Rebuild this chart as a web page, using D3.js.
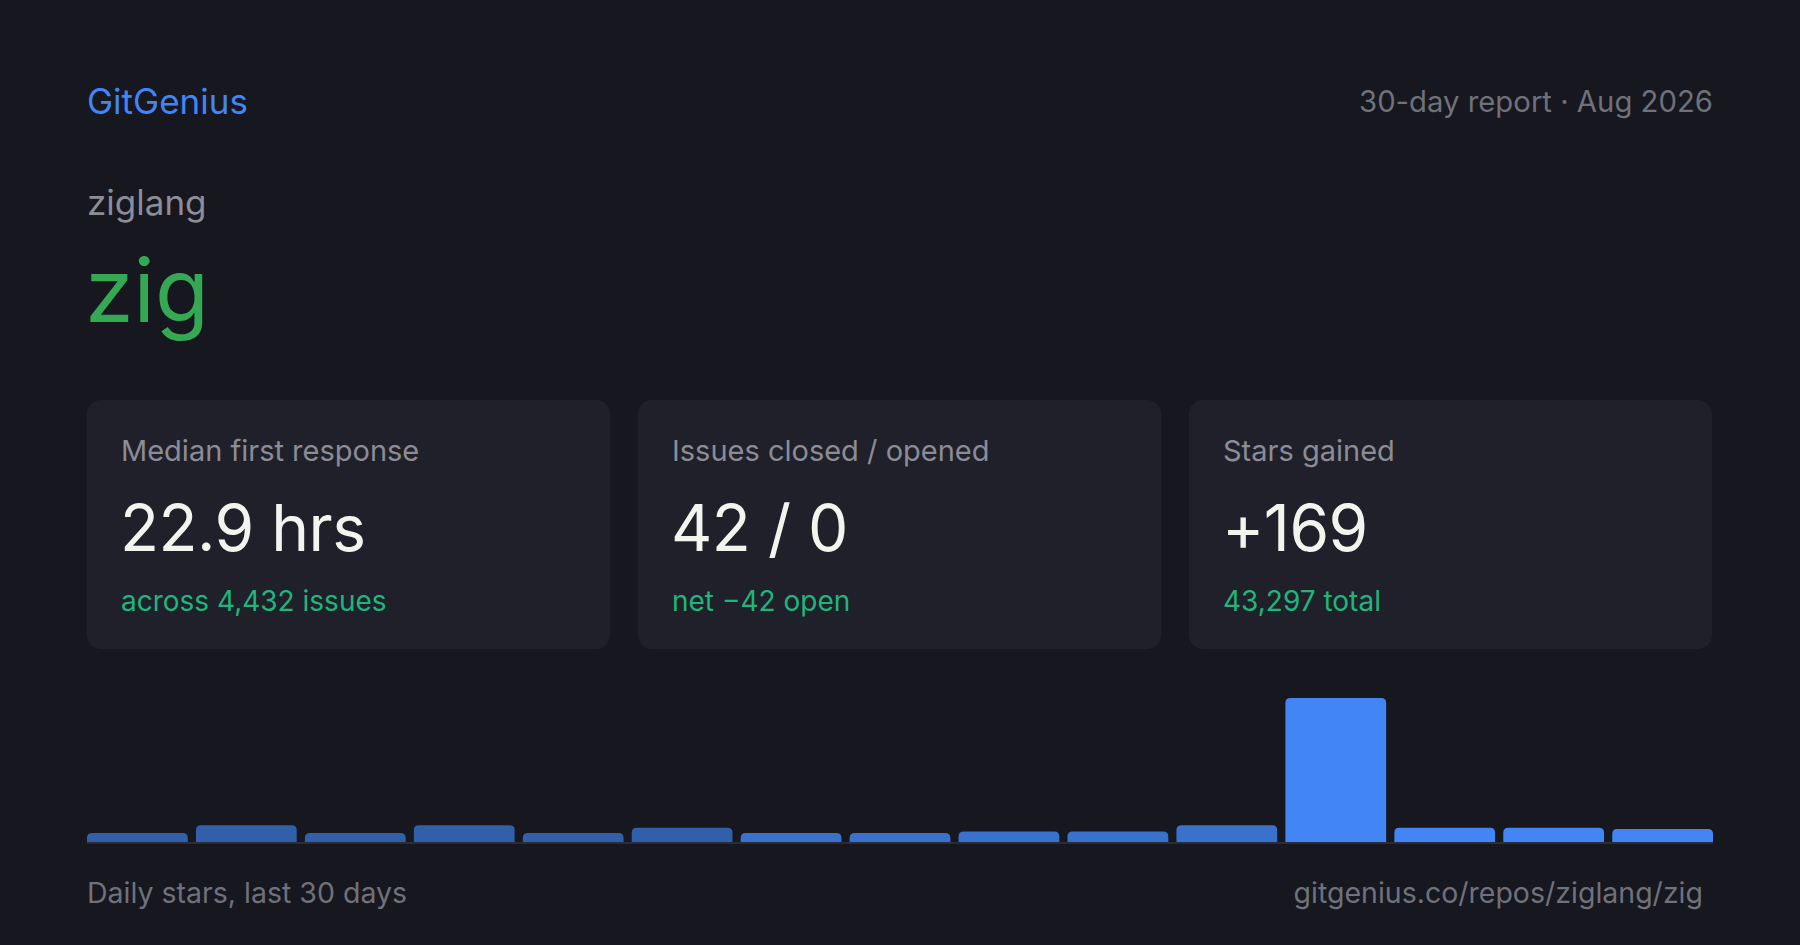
<!DOCTYPE html>
<html>
<head>
<meta charset="utf-8">
<script src="https://cdn.jsdelivr.net/npm/d3@7"></script>
<style>
  html, body { margin: 0; padding: 0; background: #16171f; }
  svg { display: block; }
  text { font-family: Inter, "Noto Sans", sans-serif; }
</style>
</head>
<body>
<script>
// report data
const brand = "GitGenius";
const period = "30-day report · Aug 2026";
const owner = "ziglang";
const repo = "zig";

const cardLabels = ["Median first response", "Issues closed / opened", "Stars gained"];
const cardValues = ["22.9 hrs", "42 / 0", "+169"];
const cardNotes = ["across 4,432 issues", "net −42 open", "43,297 total"];

// daily stars (bars)
const days = d3.range(1, 16);
const dailyStars = [7, 13, 7, 13, 7, 11, 7, 7, 8, 8, 13, 111, 11, 11, 10];

const chartCaption = "Daily stars, last 30 days";
const footerUrl = "gitgenius.co/repos/ziglang/zig";

var width = 1800, height = 945,
    left = 87, right = 1713;

var svg = d3.select("body").append("svg")
    .attr("width", width)
    .attr("height", height);

svg.append("rect")
    .attr("width", width)
    .attr("height", height)
    .attr("fill", "#16171f");

// header
svg.append("text")
    .attr("x", left).attr("y", 114)
    .attr("font-size", 35)
    .attr("fill", "#4285f4")
    .text(brand);

svg.append("text")
    .attr("x", right).attr("y", 112)
    .attr("text-anchor", "end")
    .attr("font-size", 29.3)
    .attr("fill", "#6f717b")
    .text(period);

svg.append("text")
    .attr("x", left).attr("y", 215)
    .attr("font-size", 35)
    .attr("fill", "#8c8d97")
    .text(owner);

svg.append("text")
    .attr("x", left - 2).attr("y", 322)
    .attr("font-size", 88)
    .attr("fill", "#34a853")
    .text(repo);

// stat cards
var cardW = 523, cardGap = 28, cardTop = 400, cardH = 249;

var cards = svg.selectAll(".card")
    .data(cardLabels)
  .enter()
    .append("g")
    .attr("class", "card")
    .attr("transform", function (d, i) {
        return `translate(${left + i * (cardW + cardGap)},${cardTop})`;
    });

cards.append("rect")
    .attr("width", cardW)
    .attr("height", cardH)
    .attr("rx", 14)
    .attr("fill", "#1f2029");

cards.append("text")
    .attr("x", 34).attr("y", 61)
    .attr("font-size", 29)
    .attr("fill", "#8b8c96")
    .text(function (d) { return d; });

cards.append("text")
    .attr("x", 33).attr("y", 151)
    .attr("font-size", 64)
    .attr("letter-spacing", -0.5)
    .attr("fill", "#f4f4ef")
    .text(function (d, i) { return cardValues[i]; });

cards.append("text")
    .attr("x", 34).attr("y", 211)
    .attr("font-size", 28)
    .attr("fill", "#1fb57c")
    .text(function (d, i) { return cardNotes[i]; });

// daily stars bars
var baseY = 842, topY = 698;

var x = d3.scaleBand()
    .domain(days)
    .range([left, right])
    .paddingInner(0.075)
    .paddingOuter(0);

var y = d3.scaleLinear()
    .domain([0, d3.max(dailyStars)])
    .range([baseY, topY]);

function topRounded(x0, y0, w, h, r) {
    r = Math.min(r, h, w / 2);
    return `M${x0},${y0 + h}` +
        `V${y0 + r}` +
        `Q${x0},${y0} ${x0 + r},${y0}` +
        `H${x0 + w - r}` +
        `Q${x0 + w},${y0} ${x0 + w},${y0 + r}` +
        `V${y0 + h}Z`;
}

svg.append("g")
    .selectAll("path")
    .data(dailyStars)
  .enter()
    .append("path")
    .attr("d", function (d, i) {
        var yy = y(d);
        return topRounded(x(days[i]), yy, x.bandwidth(), baseY - yy, 5);
    })
    .attr("fill", "#4285f4")
    .attr("fill-opacity", function (d, i) {
        return i < 6 ? 0.65 : (i < 11 ? 0.82 : 1);
    });

svg.append("rect")
    .attr("x", left)
    .attr("y", baseY)
    .attr("width", right - left)
    .attr("height", 2)
    .attr("fill", "#2a2c37");

// footer
svg.append("text")
    .attr("x", left).attr("y", 903)
    .attr("font-size", 28.5)
    .attr("fill", "#6f717b")
    .text(chartCaption);

svg.append("text")
    .attr("x", 1703).attr("y", 903)
    .attr("text-anchor", "end")
    .attr("font-size", 28.5)
    .attr("fill", "#6f717b")
    .text(footerUrl);
</script>
</body>
</html>
